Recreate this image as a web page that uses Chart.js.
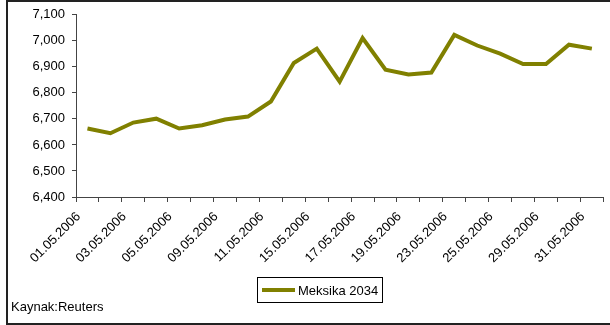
<!DOCTYPE html>
<html>
<head>
<meta charset="utf-8">
<script src="https://cdn.jsdelivr.net/npm/chart.js@4/dist/chart.umd.min.js"></script>
<style>
html,body{margin:0;padding:0;background:#fff;width:610px;height:325px;overflow:hidden;font-family:"Liberation Sans",Arial,sans-serif;}
#wrap{position:absolute;left:0;top:0;width:610px;height:325px;}
#frame{position:absolute;left:6px;top:0;width:620px;height:325px;border:2px solid #222;box-sizing:border-box;pointer-events:none;}
#legend{position:absolute;left:257px;top:277px;width:126px;height:26px;border:1px solid #000;box-sizing:border-box;font-size:13px;color:#000;display:flex;align-items:center;background:#fff;}
#legend .sw{display:inline-block;width:33px;height:4px;background:#808000;margin-left:4px;margin-right:3px;}
#source{position:absolute;left:11px;top:299px;font-size:13px;color:#000;}
</style>
</head>
<body>
<div id="wrap"><canvas id="c" width="610" height="325"></canvas></div>
<div id="frame"></div>
<div id="legend"><span class="sw"></span><span id="legtext"></span></div>
<div id="source">Kaynak:Reuters</div>
<script>
const seriesName = 'Meksika 2034';
const categories = ['01.05.2006','02.05.2006','03.05.2006','04.05.2006','05.05.2006','08.05.2006','09.05.2006','10.05.2006','11.05.2006','12.05.2006','15.05.2006','16.05.2006','17.05.2006','18.05.2006','19.05.2006','22.05.2006','23.05.2006','24.05.2006','25.05.2006','26.05.2006','29.05.2006','30.05.2006','31.05.2006'];
const values = [6.663,6.645,6.686,6.701,6.663,6.676,6.698,6.709,6.767,6.915,6.970,6.843,7.011,6.889,6.871,6.878,7.023,6.982,6.951,6.911,6.911,6.985,6.970];
const tickLabels = ['01.05.2006','03.05.2006','05.05.2006','09.05.2006','11.05.2006','15.05.2006','17.05.2006','19.05.2006','23.05.2006','25.05.2006','29.05.2006','31.05.2006'];
const yMin = 6.4, yMax = 7.1, yStep = 0.1;

document.getElementById('legtext').textContent = seriesName;
const FONT = {family:'"Liberation Sans", Arial, sans-serif', size:13};

new Chart(document.getElementById('c'), {
  type:'line',
  data:{
    labels:categories,
    datasets:[{
      label:seriesName,
      data:values,
      borderColor:'#808000',
      backgroundColor:'#808000',
      borderWidth:4,
      pointRadius:0,
      tension:0,
      fill:false
    }]
  },
  options:{
    responsive:false,
    animation:false,
    layout:{padding:{top:12,right:5,left:0,bottom:0}},
    plugins:{legend:{display:false},tooltip:{enabled:false}},
    scales:{
      x:{
        type:'category',
        offset:true,
        grid:{offset:true,drawOnChartArea:false,drawTicks:true,tickLength:5,color:'#444'},
        border:{display:true,color:'#444'},
        ticks:{
          autoSkip:false,maxRotation:45,minRotation:45,color:'#000',font:FONT,padding:7,labelOffset:-9,
          callback:function(v,i){const l=categories[i];return tickLabels.includes(l)?l:'';}
        },
        afterFit:function(s){s.height=128;}
      },
      y:{
        min:yMin,max:yMax,
        grid:{drawOnChartArea:false,tickLength:4,color:'#444'},
        border:{display:true,color:'#444'},
        ticks:{stepSize:yStep,padding:7,color:'#000',font:FONT,
          callback:function(v){return v.toFixed(3).replace('.',',');}},
        afterFit:function(s){s.width=76;}
      }
    }
  }
});
</script>
</body>
</html>
